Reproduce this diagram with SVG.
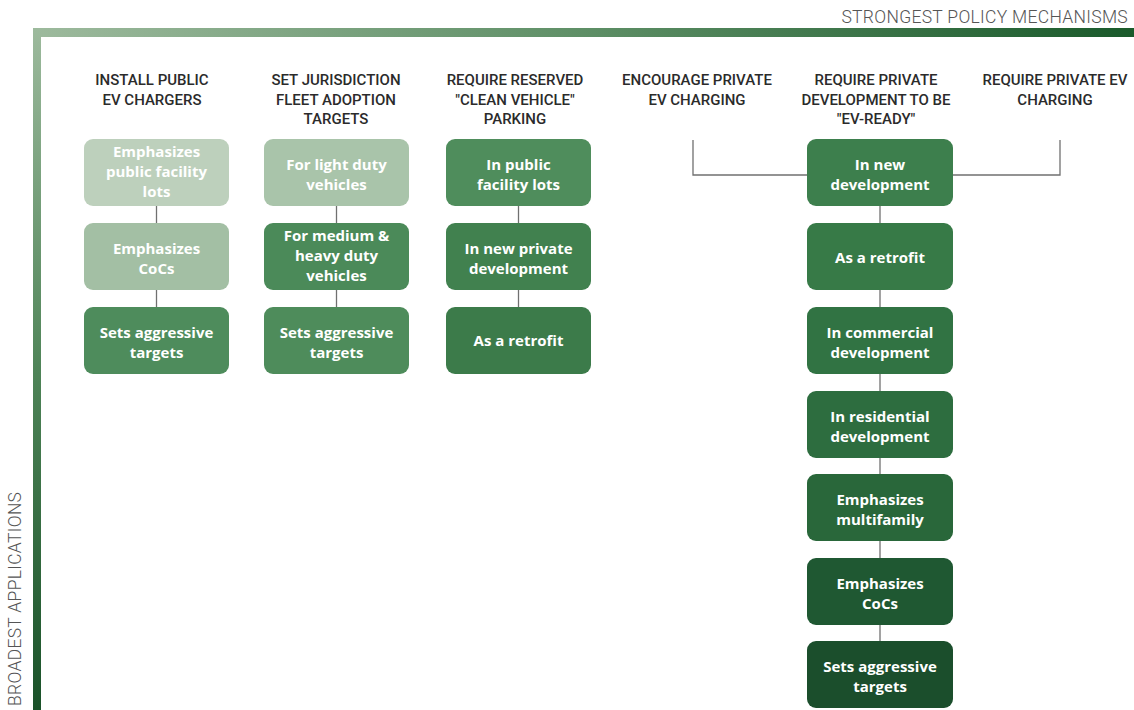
<svg xmlns="http://www.w3.org/2000/svg" width="1134" height="710" viewBox="0 0 1134 710">
<defs>
<linearGradient id="gh" x1="0" y1="0" x2="1" y2="0">
<stop offset="0" stop-color="#9dba9d"/>
<stop offset="0.5" stop-color="#5e8f66"/>
<stop offset="1" stop-color="#1a5a2b"/>
</linearGradient>
<linearGradient id="gv" x1="0" y1="0" x2="0" y2="1">
<stop offset="0" stop-color="#9dba9d"/>
<stop offset="0.5" stop-color="#4f8458"/>
<stop offset="1" stop-color="#1a5229"/>
</linearGradient>
<style>
.hd{font-family:Roboto,"Liberation Sans",sans-serif;font-weight:500;font-size:15px;fill:#2b2b2b;text-anchor:middle}
.ax{font-family:Roboto,"Liberation Sans",sans-serif;font-weight:300;font-size:17.5px;fill:#555;letter-spacing:0.3px}
.bx text{font-family:"Open Sans","Liberation Sans",sans-serif;font-weight:700;font-size:15px;fill:#fff;text-anchor:middle}
.ln{stroke:#707070;stroke-width:1.3;fill:none}
</style>
</defs>
<rect width="1134" height="710" fill="#fff"/>
<g id="axes">
<rect x="33" y="28" width="1101" height="9" fill="url(#gh)"/>
<rect x="33" y="28" width="8" height="682" fill="url(#gv)"/>
<text class="ax" x="1128" y="23" text-anchor="end">STRONGEST POLICY MECHANISMS</text>
<text class="ax" transform="translate(21,706) rotate(-90)">BROADEST APPLICATIONS</text>
</g>
<g id="headers">
<text class="hd" x="152" y="85">INSTALL PUBLIC</text>
<text class="hd" x="152" y="105">EV CHARGERS</text>
<text class="hd" x="336" y="85">SET JURISDICTION</text>
<text class="hd" x="336" y="105">FLEET ADOPTION</text>
<text class="hd" x="336" y="124">TARGETS</text>
<text class="hd" x="515" y="85">REQUIRE RESERVED</text>
<text class="hd" x="515" y="105">"CLEAN VEHICLE"</text>
<text class="hd" x="515" y="124">PARKING</text>
<text class="hd" x="697" y="85">ENCOURAGE PRIVATE</text>
<text class="hd" x="697" y="105">EV CHARGING</text>
<text class="hd" x="876" y="85">REQUIRE PRIVATE</text>
<text class="hd" x="876" y="105">DEVELOPMENT TO BE</text>
<text class="hd" x="876" y="124">"EV-READY"</text>
<text class="hd" x="1055" y="85">REQUIRE PRIVATE EV</text>
<text class="hd" x="1055" y="105">CHARGING</text>
</g>
<g id="connectors">
<line class="ln" x1="156.5" y1="206" x2="156.5" y2="223"/>
<line class="ln" x1="156.5" y1="290" x2="156.5" y2="307"/>
<line class="ln" x1="336.5" y1="206" x2="336.5" y2="223"/>
<line class="ln" x1="336.5" y1="290" x2="336.5" y2="307"/>
<line class="ln" x1="518.5" y1="206" x2="518.5" y2="223"/>
<line class="ln" x1="518.5" y1="290" x2="518.5" y2="307"/>
<polyline class="ln" points="693,140 693,175 807,175"/>
<polyline class="ln" points="953,175 1060,175 1060,140"/>
<line class="ln" x1="880" y1="206" x2="880" y2="223"/>
<line class="ln" x1="880" y1="290" x2="880" y2="307"/>
<line class="ln" x1="880" y1="374" x2="880" y2="391"/>
<line class="ln" x1="880" y1="458" x2="880" y2="474"/>
<line class="ln" x1="880" y1="541" x2="880" y2="558"/>
<line class="ln" x1="880" y1="625" x2="880" y2="641"/>
</g>
<g id="c1b1" class="bx"><rect x="84" y="139" width="145" height="67" rx="9" fill="#bdd0bc"/><text x="156.5" y="157">Emphasizes</text><text x="156.5" y="177">public facility</text><text x="156.5" y="197">lots</text></g>
<g id="c1b2" class="bx"><rect x="84" y="223" width="145" height="67" rx="9" fill="#a3bfa4"/><text x="156.5" y="254">Emphasizes</text><text x="156.5" y="274">CoCs</text></g>
<g id="c1b3" class="bx"><rect x="84" y="307" width="145" height="67" rx="9" fill="#4e8c5c"/><text x="156.5" y="338">Sets aggressive</text><text x="156.5" y="358">targets</text></g>
<g id="c2b1" class="bx"><rect x="264" y="139" width="145" height="67" rx="9" fill="#a9c4aa"/><text x="336.5" y="170">For light duty</text><text x="336.5" y="190">vehicles</text></g>
<g id="c2b2" class="bx"><rect x="264" y="223" width="145" height="67" rx="9" fill="#4b8a59"/><text x="336.5" y="241">For medium &amp;</text><text x="336.5" y="261">heavy duty</text><text x="336.5" y="281">vehicles</text></g>
<g id="c2b3" class="bx"><rect x="264" y="307" width="145" height="67" rx="9" fill="#4e8c5b"/><text x="336.5" y="338">Sets aggressive</text><text x="336.5" y="358">targets</text></g>
<g id="c3b1" class="bx"><rect x="446" y="139" width="145" height="67" rx="9" fill="#4f8d5c"/><text x="518.5" y="170">In public</text><text x="518.5" y="190">facility lots</text></g>
<g id="c3b2" class="bx"><rect x="446" y="223" width="145" height="67" rx="9" fill="#41814f"/><text x="518.5" y="254">In new private</text><text x="518.5" y="274">development</text></g>
<g id="c3b3" class="bx"><rect x="446" y="307" width="145" height="67" rx="9" fill="#3c7b4a"/><text x="518.5" y="346">As a retrofit</text></g>
<g id="c5b1" class="bx"><rect x="807" y="139" width="146" height="67" rx="9" fill="#3d7f4d"/><text x="880" y="170">In new</text><text x="880" y="190">development</text></g>
<g id="c5b2" class="bx"><rect x="807" y="223" width="146" height="67" rx="9" fill="#377a47"/><text x="880" y="263">As a retrofit</text></g>
<g id="c5b3" class="bx"><rect x="807" y="307" width="146" height="67" rx="9" fill="#317343"/><text x="880" y="338">In commercial</text><text x="880" y="358">development</text></g>
<g id="c5b4" class="bx"><rect x="807" y="391" width="146" height="67" rx="9" fill="#2d6d3f"/><text x="880" y="422">In residential</text><text x="880" y="442">development</text></g>
<g id="c5b5" class="bx"><rect x="807" y="474" width="146" height="67" rx="9" fill="#29673a"/><text x="880" y="505">Emphasizes</text><text x="880" y="525">multifamily</text></g>
<g id="c5b6" class="bx"><rect x="807" y="558" width="146" height="67" rx="9" fill="#1f5832"/><text x="880" y="589">Emphasizes</text><text x="880" y="609">CoCs</text></g>
<g id="c5b7" class="bx"><rect x="807" y="641" width="146" height="67" rx="9" fill="#1b4e2c"/><text x="880" y="672">Sets aggressive</text><text x="880" y="692">targets</text></g>
</svg>
